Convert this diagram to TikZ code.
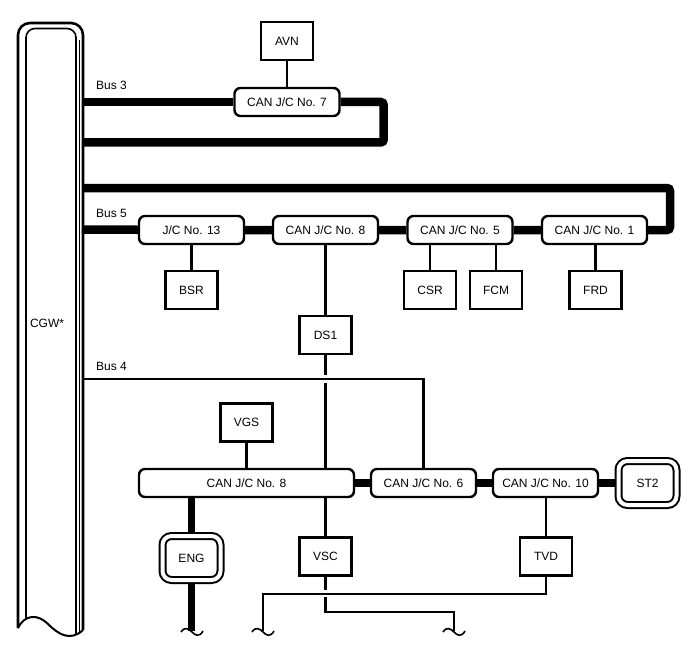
\documentclass[tikz,border=0pt]{standalone}
\usepackage{fontspec}
\setmainfont{Liberation Sans}
\usetikzlibrary{backgrounds}
\tikzstyle{jc} = [rectangle, rounded corners=6pt, minimum width=105pt, minimum height=28pt, text centered, draw=black, line width=2.4pt, fill=white]
\tikzstyle{ecu} = [rectangle, minimum width=52pt, minimum height=38pt, text centered, draw=black, line width=2.2pt, fill=white]
\tikzstyle{ecuD} = [rectangle, rounded corners=9pt, minimum width=58pt, minimum height=44pt, text centered, draw=black, double, double distance=4pt, line width=2pt, fill=white]
\tikzstyle{bus} = [line width=8.5pt]
\tikzstyle{wire} = [line width=2.2pt]
\tikzstyle{lbl} = [inner sep=0pt, anchor=west]
\tikzset{cutmark/.pic={\draw[line width=1.6pt] (-11,0) .. controls (-7,-6) and (-3,-3) .. (0,0) .. controls (3,3) and (7,6) .. (11,-1);}}

\begin{document}
\begin{tikzpicture}[x=1pt, y=-1pt, font=\fontsize{12}{14}\selectfont]
  \useasboundingbox (0,0) rectangle (688,658);
  % gateway
  \draw[line width=2.6pt, rounded corners=12pt] (18,628) -- (18,23) -- (83,23) -- (83,630);
  \draw[line width=1.6pt, rounded corners=9pt] (26,619) -- (26,28.5) -- (76,28.5) -- (76,634.6);
  \draw[line width=1.5pt] (79.5,40) -- (79.5,633);
  \draw[line width=2pt] (18,628) .. controls (25,614) and (38,614) .. (48,624) .. controls (58,634) and (70,642) .. (83,630);
  \node (cgw) at (47,323) {CGW*};
  \coordinate (b3) at (82,102);
  \coordinate (b3r) at (82,142.5);
  \coordinate (b5r) at (82,188);
  \coordinate (b5) at (82,229.5);
  \coordinate (b4) at (82,379);
  \node (bus3)[lbl] at (96,85) {Bus 3};
  \node (bus5)[lbl] at (96,213) {Bus 5};
  \node (bus4)[lbl] at (96,366) {Bus 4};

  % bus 3
  \node (avn)[ecu] at (287,41) {AVN};
  \node (jc7)[jc] at (287,102) {CAN J/C No. 7};

  % bus 5
  \node (jc13)[jc] at (191.5,230) {J/C No. 13};
  \node (jc8a)[jc] at (325.5,230) {CAN J/C No. 8};
  \node (jc5)[jc] at (460,230) {CAN J/C No. 5};
  \node (jc1)[jc] at (594.5,230) {CAN J/C No. 1};
  \node (bsr)[ecu] at (191.5,290) {BSR};
  \node (csr)[ecu] at (430,290) {CSR};
  \node (fcm)[ecu] at (496,290) {FCM};
  \node (frd)[ecu] at (595.5,290) {FRD};
  \node (ds1)[ecu] at (325.5,335) {DS1};

  % bus 4
  \node (vgs)[ecu] at (246.5,422.5) {VGS};
  \node (jc8b)[jc, minimum width=215pt] at (246.5,483) {CAN J/C No. 8};
  \node (jc6)[jc] at (423.5,483) {CAN J/C No. 6};
  \node (jc10)[jc] at (545.5,483) {CAN J/C No. 10};
  \node (st2)[ecuD] at (647.5,483) {ST2};
  \node (eng)[ecuD] at (191.5,558) {ENG};
  \node (vsc)[ecu] at (325.5,556.5) {VSC};
  \node (tvd)[ecu] at (546,556.5) {TVD};
  \coordinate (engEnd) at (191.5,631);
  \coordinate (vscEnd) at (454,631);
  \coordinate (tvdEnd) at (263,631);

  \begin{scope}[on background layer]
    \draw[bus] (b3) -- (jc7);
    \draw[bus, rounded corners=3pt] (jc7.east) -- ++(43,0) |- (b3r);
    \draw[bus, rounded corners=3pt] (b5r) -- (670,188) -- (670,230) -- (jc1.east);
    \draw[bus] (b5) -- (jc13) -- (jc8a) -- (jc5) -- (jc1);
    \draw[wire] (avn) -- (jc7);
    \draw[wire] (jc13) -- (bsr);
    \draw[wire] (csr) -- (csr |- jc5);
    \draw[wire] (fcm) -- (fcm |- jc5);
    \draw[wire] (frd) -- (frd |- jc1);
    \draw[wire] (jc8a) -- (ds1);
    \draw[wire] (ds1.south) -- ++(0,20);
    \draw[wire] (ds1.south) ++(0,28) -- (ds1.south |- jc8b.north);
    \draw[wire] (b4) -| (jc6);
    \draw[wire] (vgs) -- (jc8b);
    \draw[bus] (jc8b) -- (jc6) -- (jc10) -- (st2);
    \draw[bus, line width=7pt] (jc8b.south -| eng) -- (eng);
    \draw[bus, line width=7pt] (eng) -- (engEnd);
    \draw[wire] (jc8b.south -| vsc) -- (vsc);
    \draw[wire] (vsc.south) -- ++(0,13);
    \draw[wire] (vsc.south) ++(0,20) -- ++(0,15) -| (vscEnd);
    \draw[wire] (jc10.south -| tvd) -- (tvd);
    \draw[wire] (tvd.south) -- ++(0,17) -| (tvdEnd);
  \end{scope}
  \pic at (192,632) {cutmark};
  \pic at (454,632) {cutmark};
  \pic at (263,632) {cutmark};
\end{tikzpicture}
\end{document}
